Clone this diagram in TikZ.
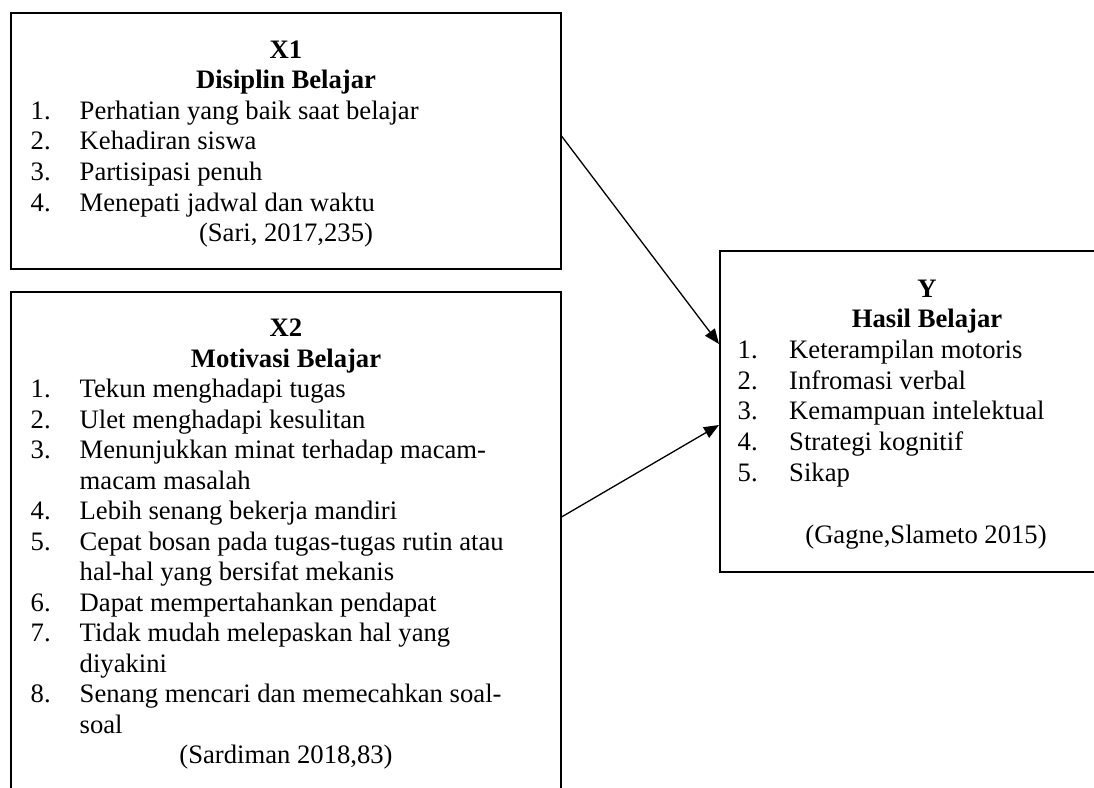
\documentclass[tikz,border=0pt]{standalone}
\usepackage{fontspec}
\setmainfont{Liberation Serif}
\usetikzlibrary{arrows.meta}
\begin{document}
\begin{tikzpicture}[x=1pt,y=-1pt,
  boxnode/.style={draw=black, line width=2pt, rectangle, inner sep=0pt},
  txt/.style={inner sep=0pt, font=\fontsize{26.65pt}{30.6pt}\selectfont},
  ttl/.style={inner sep=0pt, anchor=base, font=\fontsize{26.65pt}{30.6pt}\selectfont\bfseries},
  ctr/.style={txt, anchor=base},
  num/.style={txt, anchor=base west},
  itm/.style={txt, anchor=base west},
  conn/.style={line width=1.3pt, -{Triangle[length=15pt,width=12pt]}}]
\useasboundingbox (0,0) rectangle (1094,787);
\clip (0,0) rectangle (1094,787);
% boxes
\node[boxnode, minimum width=549.5pt, minimum height=255.7pt] (bx1) at (285.75,141.15) {};
\node[boxnode, minimum width=549.5pt, minimum height=528pt] (bx2) at (285.75,556) {};
\node[boxnode, minimum width=414pt, minimum height=321pt] (bxy) at (927,411.5) {};
% X1 text
\node[ttl] (x1t) at (286,58) {X1};
\node[ttl] (x1s) at (286,88.6) {Disiplin Belajar};
\foreach \t [count=\k] in {Perhatian yang baik saat belajar, Kehadiran siswa, Partisipasi penuh, Menepati jadwal dan waktu}{
  \node[num] (x1n\k) at (30.5,88.6+30.6*\k) {\k.};
  \node[itm] (x1l\k) at (79.5,88.6+30.6*\k) {\t};
}
\node[ctr] (x1r) at (286,241.6) {(Sari, 2017,235)};
% X2 text
\node[ttl] (x2t) at (286,336.5) {X2};
\node[ttl] (x2s) at (286,367) {Motivasi Belajar};
\foreach \t [count=\k] in {Tekun menghadapi tugas, Ulet menghadapi kesulitan, Menunjukkan minat terhadap macam-, macam masalah, Lebih senang bekerja mandiri, Cepat bosan pada tugas-tugas rutin atau, hal-hal yang bersifat mekanis, Dapat mempertahankan pendapat, Tidak mudah melepaskan hal yang, diyakini, Senang mencari dan memecahkan soal-, soal}{
  \node[itm] (x2l\k) at (79.5,367+30.5*\k) {\t};
}
\foreach \n/\k in {1/1,2/2,3/3,4/5,5/6,6/8,7/9,8/11}{
  \node[num] (x2n\n) at (30.5,367+30.5*\k) {\n.};
}
\node[ctr] (x2r) at (286,763.5) {(Sardiman 2018,83)};
% Y text
\node[ttl] (yt) at (927,297) {Y};
\node[ttl] (ys) at (927,327.7) {Hasil Belajar};
\foreach \t [count=\k] in {Keterampilan motoris, Infromasi verbal, Kemampuan intelektual, Strategi kognitif, Sikap}{
  \node[num] (yn\k) at (737.5,327.7+30.7*\k) {\k.};
  \node[itm] (yl\k) at (789,327.7+30.7*\k) {\t};
}
\node[ctr] (yr) at (926,543) {(Gagne,Slameto 2015)};
% connectors
\coordinate (a1s) at (bx1.east |- 0,136);
\coordinate (a1e) at (bxy.west |- 0,344);
\coordinate (a2s) at (bx2.east |- 0,517);
\coordinate (a2e) at (bxy.west |- 0,425);
\draw[conn] (a1s) -- (a1e);
\draw[conn] (a2s) -- (a2e);
\end{tikzpicture}
\end{document}
